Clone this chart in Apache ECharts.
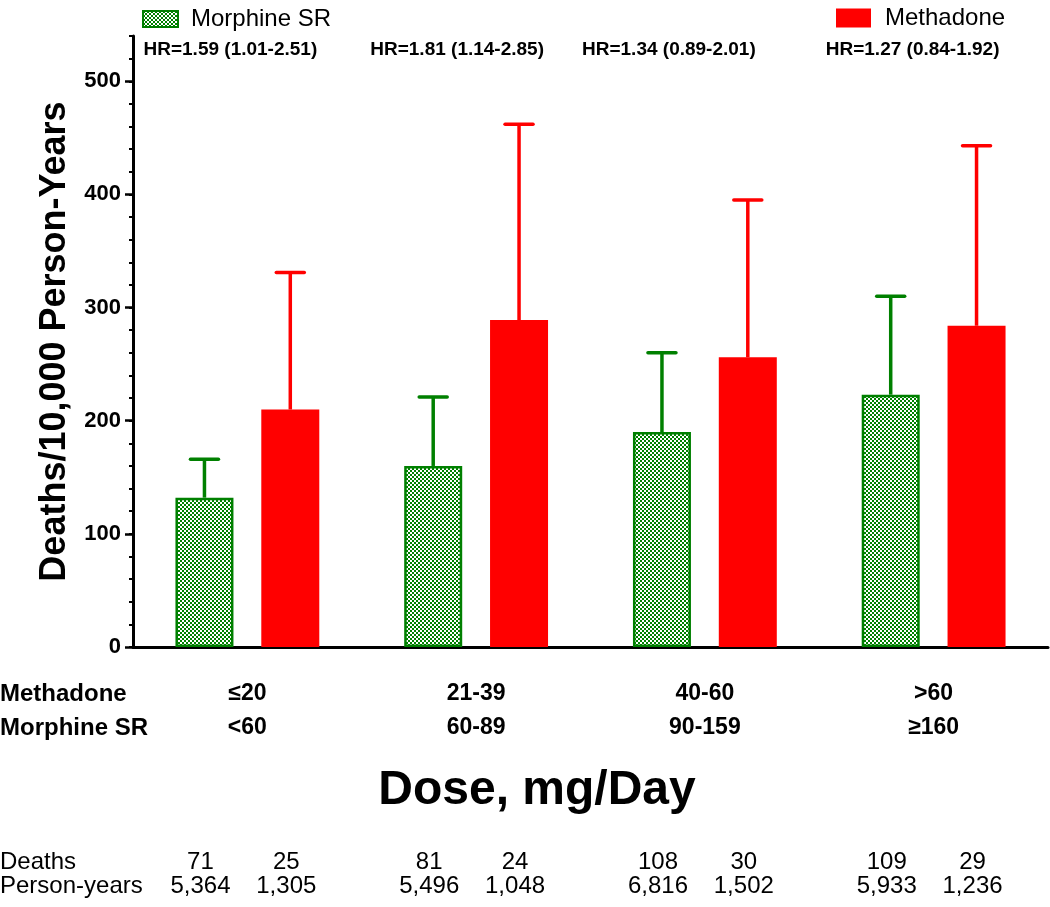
<!DOCTYPE html>
<html><head><meta charset="utf-8">
<script src="https://cdn.jsdelivr.net/npm/echarts@6/dist/echarts.min.js"></script>
<style>html,body{margin:0;padding:0;background:#fff}#c{width:1050px;height:907px}</style>
</head><body><div id="c"></div>
<script>
// ---- data ----
const methadoneDose = ['≤20', '21-39', '40-60', '>60'];
const morphineDose = ['<60', '60-89', '90-159', '≥160'];
const morphineRate = [132, 160, 190, 223];
const morphineUpper = [166, 221, 260, 310];
const methadoneRate = [210, 289, 256, 284];
const methadoneUpper = [331, 462, 395, 443];
const hrLabels = ['HR=1.59 (1.01-2.51)', 'HR=1.81 (1.14-2.85)', 'HR=1.34 (0.89-2.01)', 'HR=1.27 (0.84-1.92)'];
const morphineDeaths = ['71', '81', '108', '109'];
const methadoneDeaths = ['25', '24', '30', '29'];
const morphinePY = ['5,364', '5,496', '6,816', '5,933'];
const methadonePY = ['1,305', '1,048', '1,502', '1,236'];
const yTickValues = [0, 100, 200, 300, 400, 500];
const seriesNames = ['Morphine SR', 'Methadone'];
const rowNames = ['Methadone', 'Morphine SR'];
const tableRowNames = ['Deaths', 'Person-years'];
const xTitle = 'Dose, mg/Day';
const yTitle = 'Deaths/10,000 Person-Years';

// ---- style ----
const FONT = "'Liberation Sans', Arial, Helvetica, sans-serif";
const GREEN = '#008000', RED = '#ff0000';
const BAR_W = 58, BAR_GAP = 0.48;
const OFFSET = BAR_W * (1 + BAR_GAP) / 2;
const hrShift = [-17, -19, -36, -21];

const pc = document.createElement('canvas');
pc.width = 4; pc.height = 4;
const px = pc.getContext('2d');
px.fillStyle = '#ffffff'; px.fillRect(0, 0, 4, 4);
px.fillStyle = GREEN; px.fillRect(0, 0, 2, 2); px.fillRect(2, 2, 2, 2);

const chart = echarts.init(document.getElementById('c'), null, {renderer: 'canvas'});

function errSeries(rate, upper, color, sign) {
  return {
    type: 'custom', z: 3, silent: true,
    data: rate.map((v, i) => [i, v, upper[i]]),
    encode: {x: 0, y: [1, 2]},
    renderItem: function (params, api) {
      const b = api.coord([api.value(0), api.value(1)]);
      const t = api.coord([api.value(0), api.value(2)]);
      const x = b[0] + sign * OFFSET;
      return {type: 'group', children: [
        {type: 'line', shape: {x1: x, y1: b[1], x2: x, y2: t[1]}, style: {stroke: color, lineWidth: 3.5}},
        {type: 'line', shape: {x1: x - 14, y1: t[1], x2: x + 14, y2: t[1]}, style: {stroke: color, lineWidth: 3.5, lineCap: 'round'}}
      ]};
    }
  };
}

const option = {
  animation: false,
  backgroundColor: '#fff',
  textStyle: {fontFamily: FONT},
  grid: {left: 133, right: 2, top: 36, bottom: 260, containLabel: false, outerBoundsMode: 'none'},
  legend: [
    {data: [seriesNames[0]], left: 137, top: 2, icon: 'rect', itemWidth: 35, itemHeight: 16, itemGap: 10,
     textStyle: {fontFamily: FONT, fontSize: 24, color: '#000', padding: [0, 0, 0, 8]}, selectedMode: false},
    {data: [seriesNames[1]], left: 831, top: 1, icon: 'rect', itemWidth: 35, itemHeight: 19, itemGap: 10,
     textStyle: {fontFamily: FONT, fontSize: 24, color: '#000', padding: [0, 0, 0, 9]}, selectedMode: false}
  ],
  xAxis: {
    type: 'category', data: methadoneDose,
    axisLine: {lineStyle: {color: '#000', width: 3}},
    axisTick: {alignWithLabel: true, length: 8, lineStyle: {color: '#000', width: 3}},
    axisLabel: {
      margin: 30, interval: 0,
      formatter: (v, i) => '{a|' + v + '}\n{a|' + morphineDose[i] + '}',
      rich: {a: {fontFamily: FONT, fontSize: 23, fontWeight: 'bold', color: '#000', lineHeight: 34}}
    },
    splitLine: {show: false}
  },
  yAxis: [
    {
      type: 'value', min: 0, max: 540, interval: 100,
      axisLine: {show: true, lineStyle: {color: '#000', width: 3}},
      axisTick: {show: true, length: 8, lineStyle: {color: '#000', width: 2.5}, customValues: yTickValues},
      axisLabel: {fontFamily: FONT, fontSize: 22, fontWeight: 'bold', color: '#000', margin: 12,
        customValues: yTickValues,
        formatter: v => (v % 100 === 0 ? String(v) : '')},
      splitLine: {show: false},
      name: yTitle, nameLocation: 'middle', nameGap: 58, nameRotate: 90,
      nameTextStyle: {fontFamily: FONT, fontSize: 36, fontWeight: 'bold', color: '#000'}
    },
    {
      type: 'value', min: 0, max: 540, interval: 20, position: 'left',
      axisLine: {show: false},
      axisTick: {show: true, length: 4, lineStyle: {color: '#000', width: 2}},
      axisLabel: {show: false},
      splitLine: {show: false}
    }
  ],
  series: [
    {name: seriesNames[0], type: 'bar', data: morphineRate, barWidth: BAR_W, barGap: (BAR_GAP * 100) + '%',
     itemStyle: {color: {image: pc, repeat: 'repeat'}, borderColor: GREEN, borderWidth: 2.5}},
    {name: seriesNames[1], type: 'bar', data: methadoneRate, barWidth: BAR_W,
     itemStyle: {color: RED}},
    errSeries(morphineRate, morphineUpper, GREEN, -1),
    errSeries(methadoneRate, methadoneUpper, RED, 1)
  ]
};
chart.setOption(option);

// ---- annotations placed via axis scale ----
const centers = methadoneDose.map((c, i) => chart.convertToPixel({xAxisIndex: 0}, i));
const g = [];
hrLabels.forEach((t, i) => g.push({type: 'text', x: centers[i] + hrShift[i], y: 50,
  style: {text: t, font: 'bold 19px ' + FONT, fill: '#000', align: 'center', verticalAlign: 'middle'}}));
rowNames.forEach((t, i) => g.push({type: 'text', x: 0, y: 694 + i * 34,
  style: {text: t, font: 'bold 24px ' + FONT, fill: '#000', align: 'left', verticalAlign: 'middle'}}));
g.push({type: 'text', x: 537, y: 791,
  style: {text: xTitle, font: 'bold 48px ' + FONT, fill: '#000', align: 'center', verticalAlign: 'middle'}});
tableRowNames.forEach((t, i) => g.push({type: 'text', x: 0, y: 862 + i * 24,
  style: {text: t, font: '24px ' + FONT, fill: '#000', align: 'left', verticalAlign: 'middle'}}));
const rows = [[morphineDeaths, methadoneDeaths], [morphinePY, methadonePY]];
rows.forEach((pair, r) => {
  pair.forEach((arr, s) => {
    arr.forEach((t, i) => g.push({type: 'text', x: centers[i] + (s === 0 ? -OFFSET : OFFSET) - 4, y: 862 + r * 24,
      style: {text: t, font: '24px ' + FONT, fill: '#000', align: 'center', verticalAlign: 'middle'}}));
  });
});
chart.setOption({graphic: g});
</script></body></html>
